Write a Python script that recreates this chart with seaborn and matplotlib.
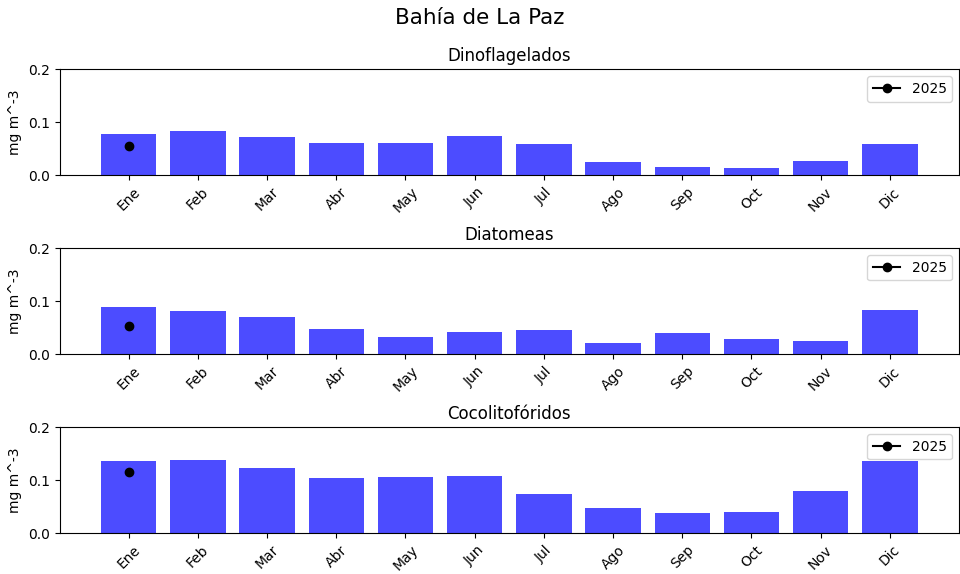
import numpy as np
import pandas as pd
import matplotlib
matplotlib.use("Agg")
import matplotlib.pyplot as plt
import seaborn as sns

months = ["Ene", "Feb", "Mar", "Abr", "May", "Jun",
          "Jul", "Ago", "Sep", "Oct", "Nov", "Dic"]

dino_clim = [0.079, 0.084, 0.072, 0.0615, 0.062, 0.0735,
             0.059, 0.0245, 0.0157, 0.0143, 0.0264, 0.059]
diato_clim = [0.090, 0.0818, 0.070, 0.0472, 0.032, 0.0428,
              0.0459, 0.022, 0.0396, 0.0289, 0.0245, 0.083]
coco_clim = [0.136, 0.139, 0.124, 0.105, 0.107, 0.1085,
             0.0744, 0.0486, 0.0385, 0.0404, 0.0789, 0.1356]

# 2025 observations (only January so far)
dino_2025 = [0.056]
diato_2025 = [0.0535]
coco_2025 = [0.116]

groups = ["Dinoflagelados", "Diatomeas", "Cocolitofóridos"]
clims = [dino_clim, diato_clim, coco_clim]
obs = [dino_2025, diato_2025, coco_2025]

fig, axes = plt.subplots(3, 1, figsize=(9.6, 5.74), dpi=100)
fig.subplots_adjust(left=0.062, right=0.999, top=0.879, bottom=0.071, hspace=0.69)

for ax, name, clim, cur in zip(axes, groups, clims, obs):
    df = pd.DataFrame({"mes": months, "valor": clim})
    sns.barplot(data=df, x="mes", y="valor", color="blue", alpha=0.7,
                saturation=1, width=0.8, ax=ax)
    ax.plot(np.arange(len(cur)), cur, "o-", color="black", label="2025")
    ax.set_xlim(-1, 12)
    ax.set_ylim(0, 0.2)
    ax.set_yticks([0.0, 0.1, 0.2])
    ax.set_title(name)
    ax.set_xlabel("")
    ax.set_ylabel("mg m^-3")
    ax.tick_params(axis="x", rotation=45)
    ax.legend(loc="upper right")

fig.suptitle("Bahía de La Paz", fontsize=15.5, y=0.986)
fig.savefig("out.png", dpi=100)
